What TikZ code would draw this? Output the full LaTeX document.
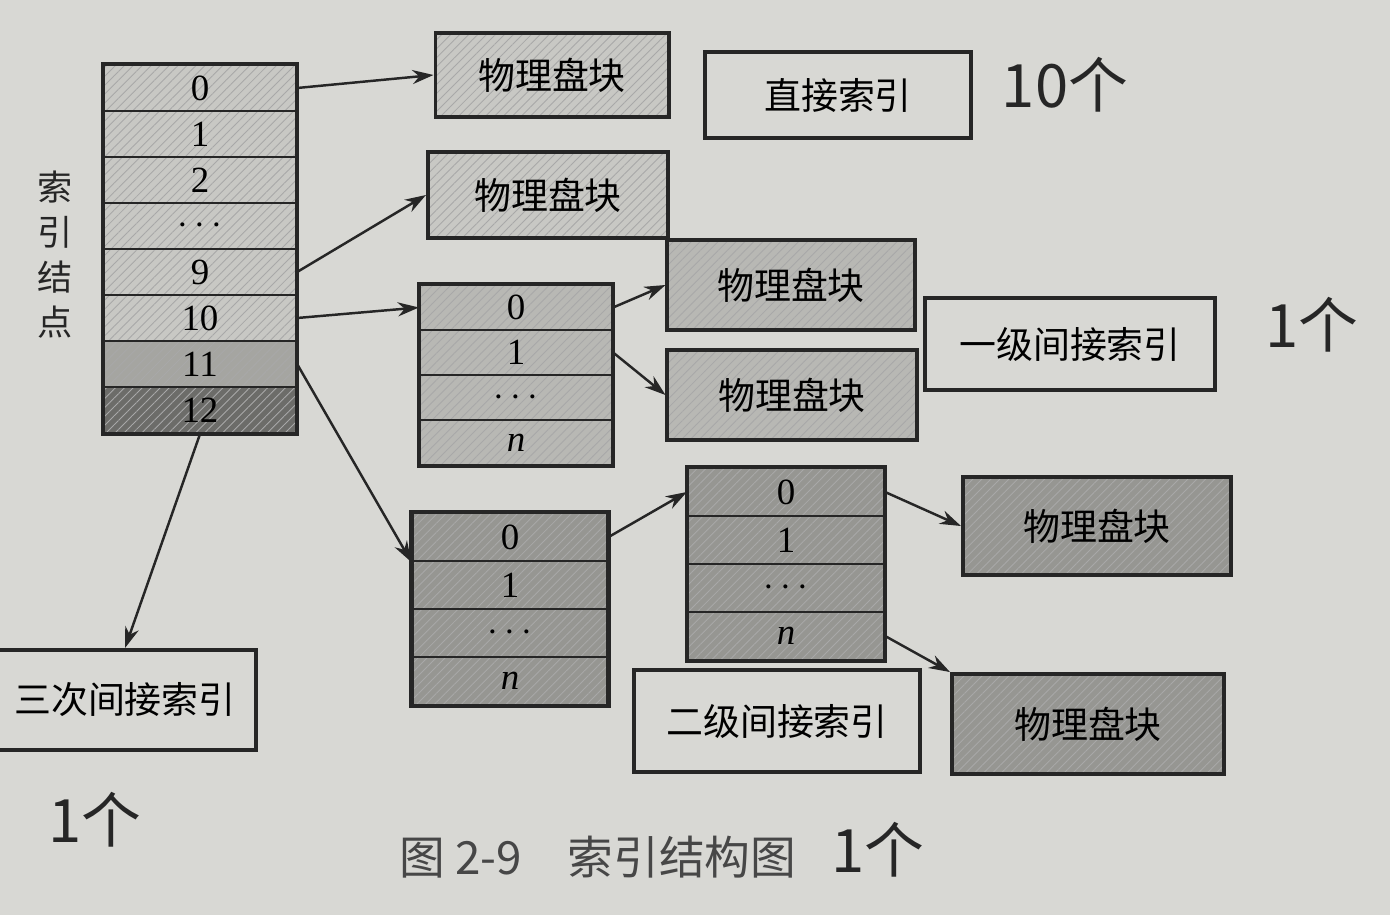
\documentclass[tikz,border=0pt]{standalone}
\usepackage{fontspec}
\setmainfont{Liberation Serif}
\newfontfamily\hei{Noto Sans CJK SC}
\usepackage{xcolor}
\usepackage{tikz}
\usetikzlibrary{arrows.meta,positioning,patterns.meta}

\definecolor{paper}{RGB}{216,216,212}
\definecolor{ink}{RGB}{38,38,38}
\definecolor{lite}{RGB}{200,200,196}
\definecolor{midlite}{RGB}{184,184,180}
\definecolor{mid}{RGB}{165,165,161}
\definecolor{deep}{RGB}{150,150,146}
\definecolor{dark}{RGB}{108,108,105}

\begin{document}
\begin{tikzpicture}[
  x=0.01cm, y=-0.01cm,
  cell/.style={draw=ink, line width=0.6pt, minimum width=1.92cm, inner sep=0pt, font=\fontsize{10.5}{11}\selectfont},
  hatch/.style={preaction={fill=#1}, preaction={pattern={Lines[angle=45,distance=1.8pt,line width=0.25pt]}, pattern color=ink!40}},
  blk/.style={draw=ink, line width=1.1pt, inner sep=0pt, font=\hei\fontsize{10.5}{12}\selectfont},
  frame/.style={draw=ink, line width=1.3pt},
  arr/.style={-{Stealth[length=6pt,width=4pt]}, line width=0.7pt, draw=ink},
  hand/.style={font=\hei\fontsize{17}{19}\selectfont, text=ink}
]
\useasboundingbox (0,0) rectangle (1390,915);
\fill[paper] (0,0) rectangle (1390,915);

% index node
\foreach \lab/\nm/\col [count=\k from 0] in {0/0/lite,1/1/lite,2/2/lite,{$\cdots$}/d/lite,9/9/lite,10/10/lite,11/11/mid,12/12/dark}
  \node[cell, hatch=\col, minimum height=0.46cm] (ind\nm) at (200,{88+46*\k}) {\lab};
\draw[frame] (ind0.north west) rectangle (ind12.south east);
\node[font=\hei\fontsize{10}{12.8}\selectfont, align=center, text=ink] (lbl) at (55,255) {索\\引\\结\\点};

% direct blocks
\node[blk, hatch=lite, minimum width=2.33cm, minimum height=0.84cm] (dir1) at (552,75) {物理盘块};
\node[blk, hatch=lite, minimum width=2.40cm, minimum height=0.86cm] (dir2) at (548,195) {物理盘块};
\node[blk, minimum width=2.65cm, minimum height=0.86cm] (dirlbl) at (838,95) {直接索引};

% single indirect
\foreach \lab/\nm [count=\k from 0] in {0/0,1/1,{$\cdots$}/d,\textit{n}/n}
  \node[cell, hatch=midlite, minimum height=0.45cm] (sng\nm) at (516,{307.5+45*\k}) {\lab};
\draw[frame] (sng0.north west) rectangle (sngn.south east);
\node[blk, hatch=midlite, minimum width=2.47cm, minimum height=0.90cm] (ps1) at (791,285) {物理盘块};
\node[blk, hatch=midlite, minimum width=2.49cm, minimum height=0.90cm] (ps2) at (792,395) {物理盘块};
\node[blk, minimum width=2.90cm, minimum height=0.92cm] (snglbl) at (1070,344) {一级间接索引};

% double indirect
\foreach \lab/\nm [count=\k from 0] in {0/0,1/1,{$\cdots$}/d,\textit{n}/n}
  \node[cell, hatch=deep, minimum width=1.95cm, minimum height=0.48cm] (dbl\nm) at (510,{537+48*\k}) {\lab};
\draw[frame] (dbl0.north west) rectangle (dbln.south east);
\foreach \lab/\nm [count=\k from 0] in {0/0,1/1,{$\cdots$}/d,\textit{n}/n}
  \node[cell, hatch=deep, minimum width=1.96cm, minimum height=0.48cm] (ddb\nm) at (786,{492+48*\k}) {\lab};
\draw[frame] (ddb0.north west) rectangle (ddbn.south east);
\node[blk, hatch=deep, minimum width=2.68cm, minimum height=0.98cm] (pd1) at (1097,526) {物理盘块};
\node[blk, hatch=deep, minimum width=2.72cm, minimum height=1.00cm] (pd2) at (1088,724) {物理盘块};
\node[blk, minimum width=2.85cm, minimum height=1.02cm] (dbllbl) at (777,721) {二级间接索引};

% triple indirect
\node[blk, minimum width=2.62cm, minimum height=1.00cm] (tri) at (125,700) {三次间接索引};

% connectors
\draw[arr] (ind0.east) -- (dir1.west);
\draw[arr] (ind9.east) -- (dir2.west);
\draw[arr] (ind10.east) -- (sng0.west);
\draw[arr] (ind11.east) -- (dbl0.south west);
\draw[arr] (ind12.south) -- (tri.north);
\draw[arr] (sng0.east) -- (ps1.west);
\draw[arr] (sng1.east) -- (ps2.west);
\draw[arr] (dbl0.east) -- (ddb0.west);
\draw[arr] (ddb0.east) -- (pd1.west);
\draw[arr] (ddbn.east) -- (pd2.north west);

% caption and notes
\node[font=\hei\fontsize{13}{15}\selectfont, text=ink!85] (cap) at (598,857) {图 2-9\quad 索引结构图};
\node[hand] (n10) at (1065,85) {10个};
\node[hand] (n1a) at (1312,325) {1个};
\node[hand] (n1b) at (95,820) {1个};
\node[hand] (n1c) at (878,850) {1个};
\end{tikzpicture}
\end{document}
